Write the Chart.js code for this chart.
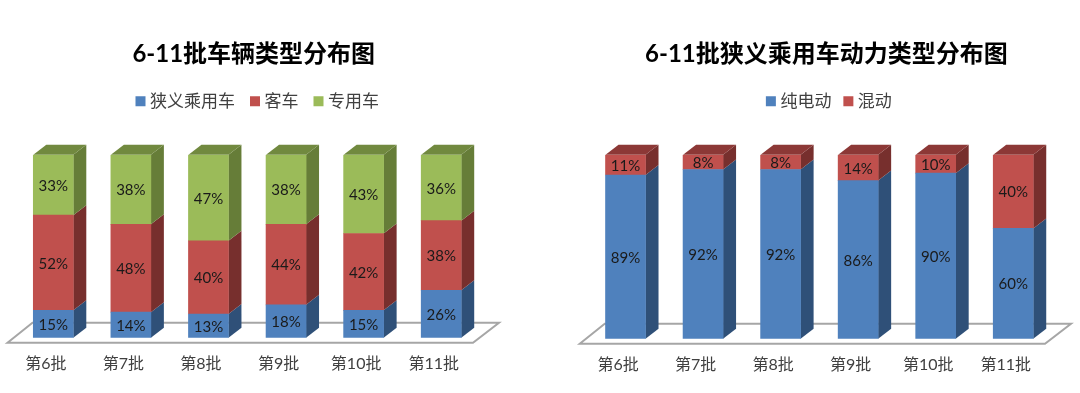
<!DOCTYPE html>
<html>
<head>
<meta charset="utf-8">
<style>
  html, body { margin: 0; padding: 0; background: #fff; }
  .box { position: absolute; top: 0; width: 540px; height: 393px; }
</style>
<script src="https://cdn.jsdelivr.net/npm/chart.js@4/dist/chart.umd.min.js"></script>
</head>
<body>
<div class="box" style="left:0"><canvas id="chart-left" width="540" height="393"></canvas></div>
<div class="box" style="left:540px"><canvas id="chart-right" width="540" height="393"></canvas></div>
<script>
const batches = ['第6批', '第7批', '第8批', '第9批', '第10批', '第11批'];

const leftTitle = '6-11批车辆类型分布图';
const passengerShare = [15, 14, 13, 18, 15, 26];
const busShare = [52, 48, 40, 44, 42, 38];
const specialShare = [33, 38, 47, 38, 43, 36];

const rightTitle = '6-11批狭义乘用车动力类型分布图';
const electricShare = [89, 92, 92, 86, 90, 60];
const hybridShare = [11, 8, 8, 14, 10, 40];

const BLUE = { front: '#4F81BD', side: '#2F5078', top: '#385D8A' };
const RED = { front: '#C0504D', side: '#772F2D', top: '#8C3836' };
const GREEN = { front: '#9BBB59', side: '#667D38', top: '#71893F' };

const FONT = "Lato, 'Noto Sans CJK SC', sans-serif";
const DEPTH_X = 13;
const DEPTH_Y = 10;

function poly(ctx, pts, fill) {
  ctx.beginPath();
  pts.forEach((p, i) => (i ? ctx.lineTo(p[0], p[1]) : ctx.moveTo(p[0], p[1])));
  ctx.closePath();
  ctx.fillStyle = fill;
  ctx.fill();
}

// floor, bar sides and value labels; the library only draws flat bars
const fake3d = {
  id: 'fake3d',
  beforeLayout(chart, args, opts) {
    // room between the legend and the bars
    const legend = chart.legend;
    if (!legend.patched) {
      const fit = legend.fit;
      legend.fit = function () {
        fit.call(this);
        this.height += opts.legendGap;
      };
      legend.patched = true;
    }
  },
  afterLayout(chart, args, opts) {
    chart.titleBlock.left += opts.titleShift;
    chart.titleBlock.right += opts.titleShift;
    chart.legend.left += opts.legendShift;
    chart.legend.right += opts.legendShift;
  },
  beforeDatasetsDraw(chart) {
    const { ctx, chartArea: a } = chart;
    ctx.save();
    ctx.beginPath();
    ctx.moveTo(a.left - 7, a.bottom + 5);
    ctx.lineTo(a.left + 18, a.bottom - 15);
    ctx.lineTo(a.right + 19, a.bottom - 15);
    ctx.lineTo(a.right - 7, a.bottom + 5);
    ctx.closePath();
    ctx.fillStyle = '#fff';
    ctx.fill();
    ctx.strokeStyle = '#A6A6A6';
    ctx.lineWidth = 2;
    ctx.stroke();

    const last = chart.data.datasets.length - 1;
    chart.data.datasets.forEach((ds, d) => {
      chart.getDatasetMeta(d).data.forEach(bar => {
        const l = bar.x - bar.width / 2;
        const r = bar.x + bar.width / 2;
        poly(ctx, [[r, bar.y], [r + DEPTH_X, bar.y - DEPTH_Y], [r + DEPTH_X, bar.base - DEPTH_Y], [r, bar.base]], ds.shades.side);
        if (d === last) {
          poly(ctx, [[l, bar.y], [l + DEPTH_X, bar.y - DEPTH_Y], [r + DEPTH_X, bar.y - DEPTH_Y], [r, bar.y]], ds.shades.top);
        }
      });
    });
    ctx.restore();
  },
  afterDatasetsDraw(chart) {
    const { ctx } = chart;
    ctx.save();
    ctx.font = '15px ' + FONT;
    ctx.fillStyle = '#1A1A1A';
    ctx.textAlign = 'center';
    ctx.textBaseline = 'middle';
    chart.data.datasets.forEach((ds, d) => {
      chart.getDatasetMeta(d).data.forEach((bar, i) => {
        ctx.fillText(ds.data[i] + '%', bar.x, (bar.y + bar.base) / 2 + 1);
      });
    });
    ctx.restore();
  }
};

function makeChart(id, title, series, look) {
  return new Chart(document.getElementById(id), {
    type: 'bar',
    data: {
      labels: batches,
      datasets: series.map(s => ({
        label: s.label,
        data: s.data,
        shades: s.shades,
        backgroundColor: s.shades.front,
        borderWidth: 0,
        barThickness: 40
      }))
    },
    plugins: [fake3d],
    options: {
      responsive: false,
      animation: false,
      layout: { padding: { left: look.padLeft, right: look.padRight, top: 0, bottom: look.padBottom } },
      scales: {
        x: {
          stacked: true,
          grid: { display: false, drawTicks: false },
          border: { display: false },
          ticks: {
            color: '#404040',
            font: { family: FONT, size: 16 },
            padding: 16,
            labelOffset: -7.5,
            maxRotation: 0,
            minRotation: 0,
            autoSkip: false
          }
        },
        y: { stacked: true, display: false, min: 0, max: 100 }
      },
      plugins: {
        tooltip: { enabled: false },
        fake3d: { titleShift: look.titleShift, legendShift: look.legendShift, legendGap: look.legendGap },
        title: {
          display: true,
          text: title,
          color: '#000',
          font: { family: FONT, size: 24, weight: 'bold' },
          padding: { top: 40, bottom: 24 - look.legendPad }
        },
        legend: {
          display: true,
          labels: {
            color: '#404040',
            font: { family: FONT, size: 17 },
            usePointStyle: true,
            pointStyle: 'rect',
            boxWidth: 2,
            boxHeight: 10,
            padding: look.legendPad
          }
        }
      }
    }
  });
}

makeChart('chart-left', leftTitle, [
  { label: '狭义乘用车', data: passengerShare, shades: BLUE },
  { label: '客车', data: busShare, shades: RED },
  { label: '专用车', data: specialShare, shades: GREEN }
], { padLeft: 14.5, padRight: 60, padBottom: 4, titleShift: 6.5, legendShift: 12, legendPad: 19, legendGap: 35 });

makeChart('chart-right', rightTitle, [
  { label: '纯电动', data: electricShare, shades: BLUE },
  { label: '混动', data: hybridShare, shades: RED }
], { padLeft: 46.75, padRight: 28, padBottom: 3, titleShift: 7, legendShift: 11.5, legendPad: 16, legendGap: 35 });
</script>
</body>
</html>
